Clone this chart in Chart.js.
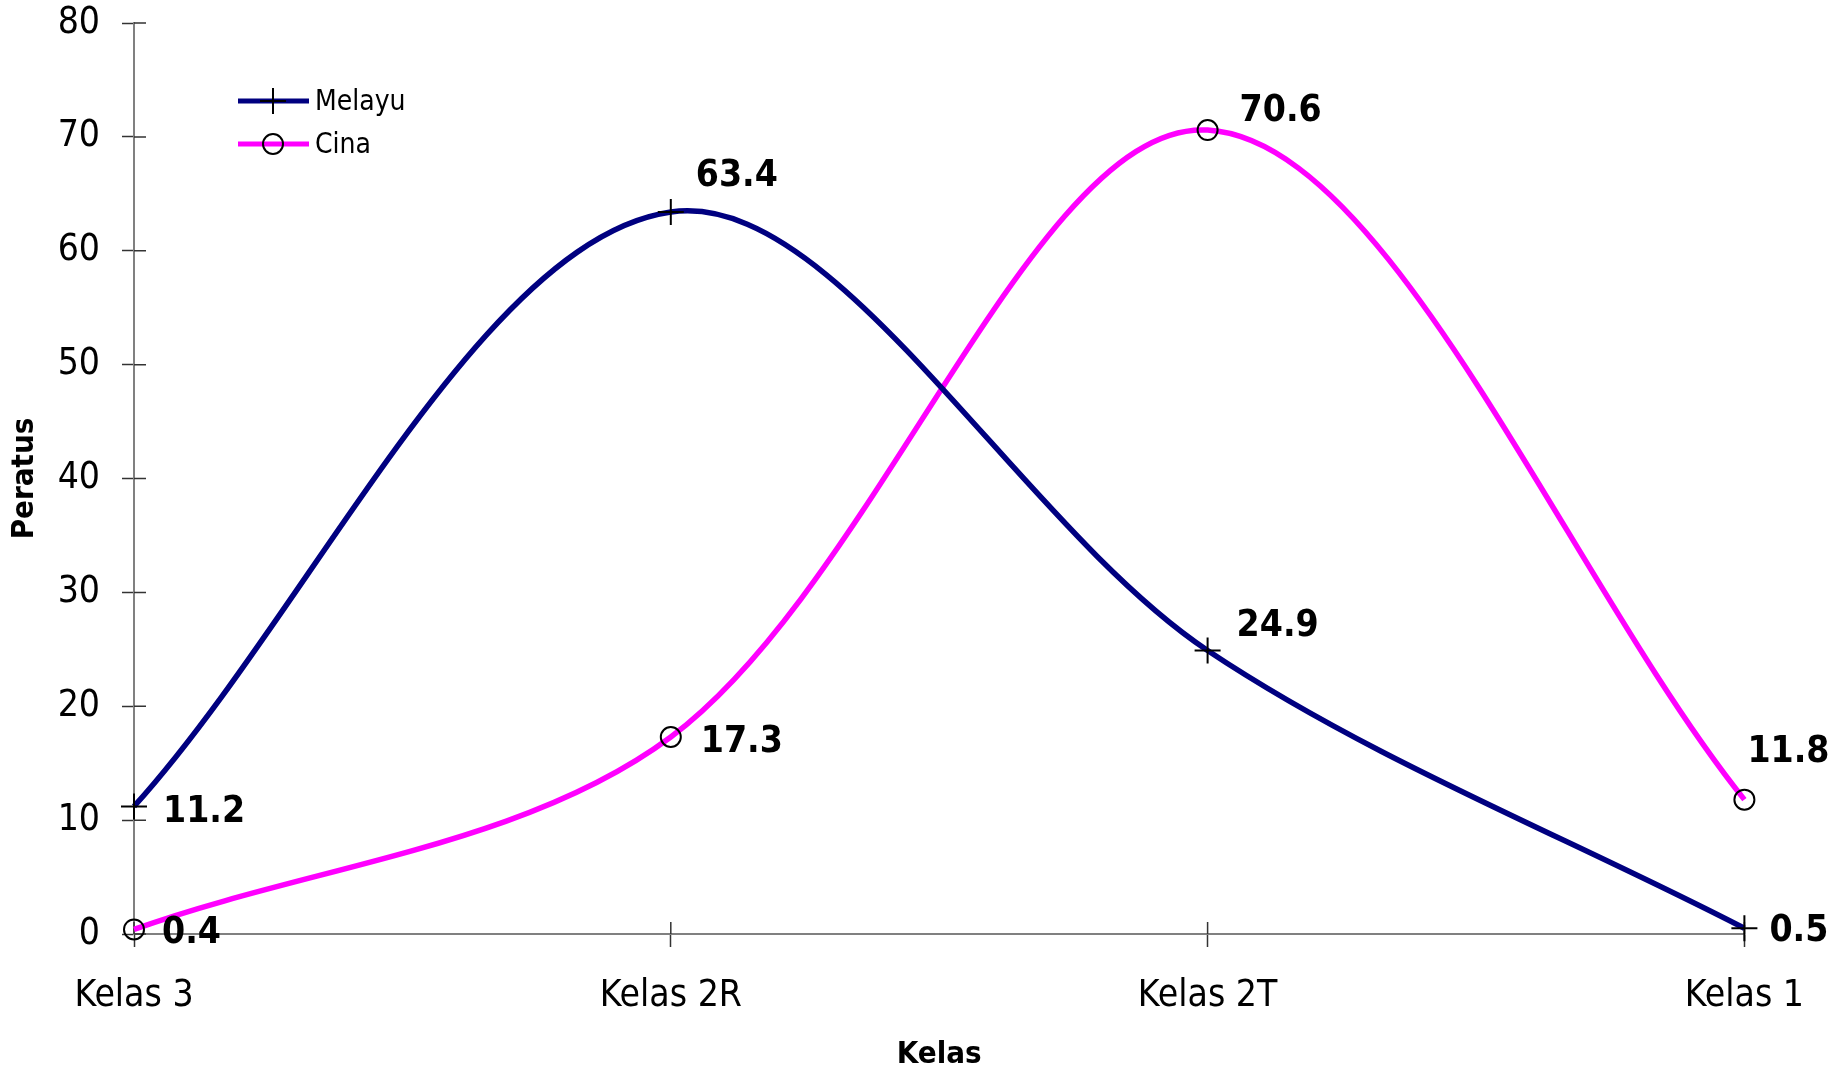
<!DOCTYPE html>
<html>
<head>
<meta charset="utf-8">
<script src="https://cdn.jsdelivr.net/npm/chart.js@4"></script>
<style>
  body { margin: 0; background: #fff; }
  canvas { display: block; }
</style>
</head>
<body>
<canvas id="kelasChart" width="1835" height="1070"></canvas>
<script>
const categories = ['Kelas 3', 'Kelas 2R', 'Kelas 2T', 'Kelas 1'];
const melayu = [11.2, 63.4, 24.9, 0.5];
const cina = [0.4, 17.3, 70.6, 11.8];
const yTicks = [0, 10, 20, 30, 40, 50, 60, 70, 80];

const FONT = "'DejaVu Sans Condensed', 'DejaVu Sans', sans-serif";

// little offsets so the value labels sit where they do in the original
const labelOffsets = [
  [[29, 3], [25, -39], [29, -27], [25, 0]],
  [[28, 1], [30, 2], [32, -22], [3, -50]]
];

// ticks in the original cross the axis, the grid only draws the outer half
const innerTicks = {
  id: 'innerTicks',
  beforeDatasetsDraw(chart) {
    const ctx = chart.ctx;
    const x = chart.scales.x, y = chart.scales.y;
    const area = chart.chartArea;
    ctx.save();
    ctx.strokeStyle = '#333';
    ctx.lineWidth = 1.5;
    ctx.beginPath();
    yTicks.forEach(v => {
      const py = y.getPixelForValue(v);
      ctx.moveTo(area.left, py);
      ctx.lineTo(area.left + 12, py);
    });
    categories.forEach((c, i) => {
      const px = x.getPixelForValue(i);
      ctx.moveTo(px, area.bottom);
      ctx.lineTo(px, area.bottom - 12);
    });
    ctx.stroke();
    ctx.restore();
  }
};

const valueLabels = {
  id: 'valueLabels',
  afterDatasetsDraw(chart) {
    const ctx = chart.ctx;
    ctx.save();
    ctx.font = 'bold 37px ' + FONT;
    ctx.fillStyle = '#000';
    ctx.textAlign = 'left';
    ctx.textBaseline = 'middle';
    chart.data.datasets.forEach((ds, i) => {
      chart.getDatasetMeta(i).data.forEach((pt, j) => {
        const off = labelOffsets[i][j];
        ctx.fillText(ds.data[j].toFixed(1), pt.x + off[0], pt.y + off[1] + 3);
      });
    });
    ctx.restore();
  }
};

function drawMarker(ctx, style, x, y) {
  ctx.strokeStyle = '#000';
  ctx.lineWidth = 2;
  ctx.beginPath();
  if (style === 'cross') {
    ctx.moveTo(x - 13, y); ctx.lineTo(x + 13, y);
    ctx.moveTo(x, y - 13); ctx.lineTo(x, y + 13);
  } else {
    ctx.arc(x, y, 10, 0, Math.PI * 2);
  }
  ctx.stroke();
}

const insideLegend = {
  id: 'insideLegend',
  afterDraw(chart) {
    const ctx = chart.ctx;
    const left = chart.chartArea.left + 104;
    const top = chart.chartArea.top + 78;
    ctx.save();
    chart.data.datasets.forEach((ds, i) => {
      const y = top + i * 43;
      ctx.strokeStyle = ds.borderColor;
      ctx.lineWidth = 5;
      ctx.beginPath();
      ctx.moveTo(left, y);
      ctx.lineTo(left + 71, y);
      ctx.stroke();
      drawMarker(ctx, ds.pointStyle, left + 35, y);
      ctx.fillStyle = '#000';
      ctx.font = '28px ' + FONT;
      ctx.textBaseline = 'middle';
      ctx.fillText(ds.label, left + 77, y + 2);
    });
    ctx.restore();
  }
};

const ctx = document.getElementById('kelasChart').getContext('2d');
const chart = new Chart(ctx, {
  type: 'line',
  data: {
    labels: categories,
    datasets: [{
      label: 'Melayu',
      data: melayu,
      borderColor: '#000080',
      borderWidth: 5.5,
      tension: 0.33,
      pointStyle: 'cross',
      pointRadius: 13,
      pointBorderColor: '#000',
      pointBorderWidth: 2,
      pointBackgroundColor: 'transparent',
      clip: false
    }, {
      label: 'Cina',
      data: cina,
      borderColor: '#FF00FF',
      borderWidth: 5.5,
      tension: 0.33,
      pointStyle: 'circle',
      pointRadius: 10,
      pointBorderColor: '#000',
      pointBorderWidth: 2,
      pointBackgroundColor: 'transparent',
      clip: false
    }]
  },
  options: {
    responsive: false,
    animation: false,
    layout: { padding: { top: 23, right: 90, bottom: 0, left: 0 } },
    plugins: {
      legend: { display: false },
      tooltip: { enabled: false }
    },
    scales: {
      x: {
        offset: false,
        afterFit: scale => { scale.height = 136; },
        grid: { drawOnChartArea: false, tickLength: 13, tickColor: '#333', tickWidth: 1.5 },
        border: { color: '#808080', width: 2 },
        ticks: { color: '#000', padding: 31, maxRotation: 0, font: { family: FONT, size: 37, lineHeight: 1 } },
        title: {
          display: true, text: 'Kelas', color: '#000',
          font: { family: FONT, size: 31, weight: 'bold', lineHeight: 1 },
          padding: { top: 0, bottom: 0 }
        }
      },
      y: {
        min: 0,
        max: 80,
        afterFit: scale => {
          scale.width = 134;
          scale.paddingTop = 0;
          scale.paddingBottom = 0;
        },
        afterBuildTicks: scale => { scale.ticks = yTicks.map(v => ({ value: v })); },
        grid: { drawOnChartArea: false, tickLength: 12, tickColor: '#333', tickWidth: 1.5 },
        border: { color: '#808080', width: 2 },
        ticks: { color: '#000', padding: 22, font: { family: FONT, size: 37, lineHeight: 1 } },
        title: {
          display: true, text: 'Peratus', color: '#000',
          font: { family: FONT, size: 31, weight: 'bold', lineHeight: 1.2 },
          padding: { top: 6, bottom: 0 }
        }
      }
    }
  },
  plugins: [innerTicks, valueLabels, insideLegend]
});
</script>
</body>
</html>
